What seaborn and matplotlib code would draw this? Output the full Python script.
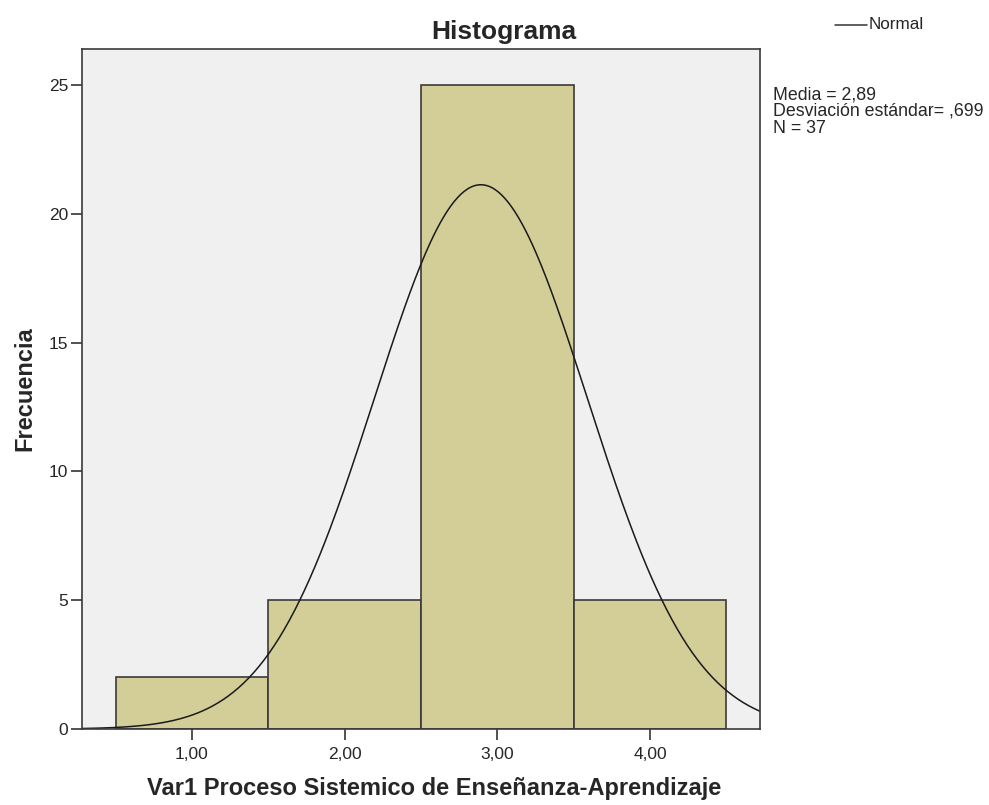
import numpy as np
import pandas as pd
import seaborn as sns
import matplotlib.pyplot as plt
import matplotlib.lines as mlines

# valores observados de Var1 y sus frecuencias
categorias = [1, 2, 3, 4]
frecuencias = [2, 5, 25, 5]
y_ticks = [0, 5, 10, 15, 20, 25]
x_ticks = [1, 2, 3, 4]
x_tick_labels = ['1,00', '2,00', '3,00', '4,00']

valores = np.repeat(categorias, frecuencias)
df = pd.DataFrame({'Var1': valores})

media = df['Var1'].mean()
desv = df['Var1'].std()
n = len(df)

sns.set_style('white')
plt.rcParams['font.family'] = ['Liberation Sans', 'DejaVu Sans']

fig = plt.figure(figsize=(9.89, 8.05), dpi=100)
ax = fig.add_axes([0.0829, 0.0944, 0.6856, 0.8447])
ax.set_facecolor('#f0f0f0')

sns.histplot(data=df, x='Var1', bins=[0.5, 1.5, 2.5, 3.5, 4.5], stat='count',
             color='#d3ce97', alpha=1, edgecolor='#3a3a3a', linewidth=1.2, ax=ax)

# curva normal ajustada (escalada a frecuencias, ancho de clase 1)
xs = np.linspace(0.28, 4.72, 400)
ys = n * 1.0 * np.exp(-0.5 * ((xs - media) / desv) ** 2) / (desv * np.sqrt(2 * np.pi))
sns.lineplot(x=xs, y=ys, color='#1a1a1a', linewidth=1.1, ax=ax)

ax.set_xlim(0.28, 4.72)
ax.set_ylim(0, 26.4)
ax.set_xticks(x_ticks)
ax.set_xticklabels(x_tick_labels)
ax.set_yticks(y_ticks)
ax.tick_params(axis='both', direction='out', length=8, width=1.2, color='#333333',
               labelsize=12.5, bottom=True, left=True)
ax.tick_params(axis='x', pad=5)
ax.tick_params(axis='y', pad=2)

for s in ax.spines.values():
    s.set_color('#3a3a3a')
    s.set_linewidth(1.2)

ax.set_title('Histograma', fontsize=19, fontweight='bold', pad=7, x=0.622)
ax.set_xlabel('Var1 Proceso Sistemico de Enseñanza-Aprendizaje', fontsize=17,
              fontweight='bold', labelpad=11, x=0.52)
ax.set_ylabel('Frecuencia', fontsize=17, fontweight='bold', labelpad=9)

# leyenda y estadisticos a la derecha
fig.add_artist(mlines.Line2D([0.8443, 0.8767], [0.969, 0.969], color='#333333', linewidth=1.1))
fig.text(0.8785, 0.969, 'Normal', fontsize=12.3, va='center', ha='left')
fig.text(0.7816, 0.893, 'Media = 2,89\nDesviación estándar= ,699\nN = 37',
         fontsize=12.8, va='top', ha='left', linespacing=0.98)

plt.savefig('out.png', dpi=100)
